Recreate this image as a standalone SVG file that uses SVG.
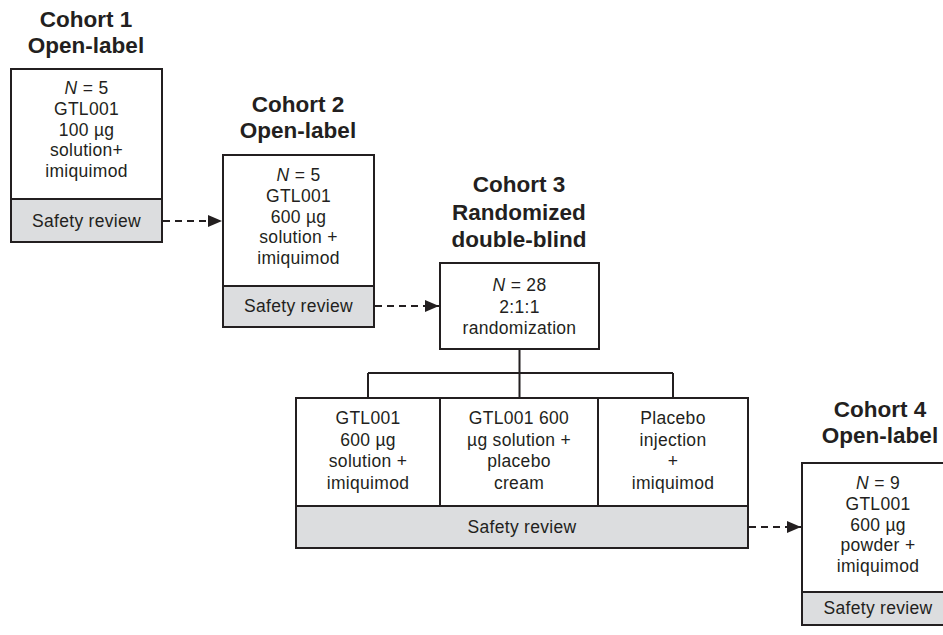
<svg xmlns="http://www.w3.org/2000/svg" width="943" height="635" viewBox="0 0 943 635">
<defs>
<marker id="ah" markerWidth="14" markerHeight="12" refX="14" refY="6" orient="auto" markerUnits="userSpaceOnUse">
<path d="M0,0 L14,6 L0,12 Z" fill="#231f20"/>
</marker>
<style>
.box{fill:#fff;stroke:#231f20;stroke-width:2}
.sr{fill:#dcdddf;stroke:#231f20;stroke-width:2}
.t{font-family:"Liberation Sans",Arial,sans-serif;font-size:17.5px;letter-spacing:0.3px;fill:#231f20;text-anchor:middle}
.h{font-family:"Liberation Sans",Arial,sans-serif;font-size:22.5px;font-weight:bold;fill:#231f20;text-anchor:middle}
.ln{fill:none;stroke:#231f20;stroke-width:2}
.da{fill:none;stroke:#231f20;stroke-width:2;stroke-dasharray:7,5;marker-end:url(#ah)}
</style>
</defs>
<rect width="943" height="635" fill="#fff"/>
<g id="cohort1">
<text class="h" x="86" y="27">Cohort 1</text>
<text class="h" x="86" y="53">Open-label</text>
<rect class="box" x="11" y="69" width="151" height="130"/>
<rect class="sr" x="11" y="199" width="151" height="43"/>
<text class="t" x="86.5" y="94"><tspan font-style="italic">N</tspan> = 5</text>
<text class="t" x="86.5" y="115">GTL001</text>
<text class="t" x="86.5" y="135.5">100 µg</text>
<text class="t" x="86.5" y="156">solution+</text>
<text class="t" x="86.5" y="176.5">imiquimod</text>
<text class="t" x="86.5" y="227">Safety review</text>
</g>
<g id="cohort2">
<text class="h" x="298" y="112">Cohort 2</text>
<text class="h" x="298" y="138">Open-label</text>
<rect class="box" x="223" y="155" width="151" height="131"/>
<rect class="sr" x="223" y="286" width="151" height="41"/>
<text class="t" x="298.5" y="181"><tspan font-style="italic">N</tspan> = 5</text>
<text class="t" x="298.5" y="202">GTL001</text>
<text class="t" x="298.5" y="222.5">600 µg</text>
<text class="t" x="298.5" y="243">solution +</text>
<text class="t" x="298.5" y="264">imiquimod</text>
<text class="t" x="298.5" y="312">Safety review</text>
</g>
<g id="cohort3">
<text class="h" x="519" y="192">Cohort 3</text>
<text class="h" x="519" y="219.5">Randomized</text>
<text class="h" x="519" y="247">double-blind</text>
<rect class="box" x="440" y="263" width="159" height="86"/>
<text class="t" x="519.5" y="291"><tspan font-style="italic">N</tspan> = 28</text>
<text class="t" x="519.5" y="312.5">2:1:1</text>
<text class="t" x="519.5" y="334">randomization</text>
</g>
<g id="arms">
<rect class="box" x="296" y="398" width="144" height="108"/>
<rect class="box" x="440" y="398" width="158" height="108"/>
<rect class="box" x="598" y="398" width="150" height="108"/>
<rect class="sr" x="296" y="506" width="452" height="42"/>
<text class="t" x="368" y="424">GTL001</text>
<text class="t" x="368" y="445.5">600 µg</text>
<text class="t" x="368" y="467">solution +</text>
<text class="t" x="368" y="488.5">imiquimod</text>
<text class="t" x="519" y="424">GTL001 600</text>
<text class="t" x="519" y="445.5">µg solution +</text>
<text class="t" x="519" y="467">placebo</text>
<text class="t" x="519" y="488.5">cream</text>
<text class="t" x="673" y="424">Placebo</text>
<text class="t" x="673" y="445.5">injection</text>
<text class="t" x="673" y="467">+</text>
<text class="t" x="673" y="488.5">imiquimod</text>
<text class="t" x="522" y="533">Safety review</text>
</g>
<g id="cohort4">
<text class="h" x="880" y="417">Cohort 4</text>
<text class="h" x="880" y="443">Open-label</text>
<rect class="box" x="802" y="463" width="152" height="129"/>
<rect class="sr" x="802" y="592" width="152" height="33"/>
<text class="t" x="878" y="489"><tspan font-style="italic">N</tspan> = 9</text>
<text class="t" x="878" y="510">GTL001</text>
<text class="t" x="878" y="530.5">600 µg</text>
<text class="t" x="878" y="551">powder +</text>
<text class="t" x="878" y="572">imiquimod</text>
<text class="t" x="878" y="614">Safety review</text>
</g>
<g id="connectors">
<path class="da" d="M163,221 H222"/>
<path class="da" d="M375,306 H439"/>
<path class="da" d="M749,527 H801"/>
<path class="ln" d="M519.5,349 V373 M368,373 H673 M368,373 V398 M519.5,373 V398 M673,373 V398"/>
</g>
</svg>
